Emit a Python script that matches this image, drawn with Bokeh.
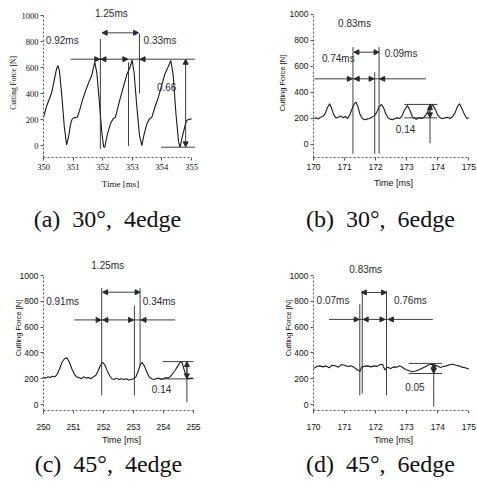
from bokeh.plotting import figure
from bokeh.layouts import column, row
from bokeh.models import ColumnDataSource, FixedTicker, Arrow, NormalHead
from bokeh.core.properties import value
from bokeh.embed import file_html
from bokeh.resources import INLINE

# ---------------- data ----------------
y_ticks = [0, 200, 400, 600, 800, 1000]

# (a) 30 deg, 4 edge
a_xticks = [350, 351, 352, 353, 354, 355]
a_time = [350.00, 350.10, 350.20, 350.28, 350.36, 350.44, 350.49, 350.54, 350.62, 350.70,
          350.78, 350.84, 350.92, 350.97, 351.05, 351.14, 351.22, 351.31, 351.42, 351.53,
          351.63, 351.73, 351.80, 351.88, 351.97, 352.03, 352.07, 352.15, 352.26, 352.35,
          352.43, 352.52, 352.60, 352.71, 352.82, 352.92, 352.99, 353.06, 353.14, 353.24,
          353.32, 353.40, 353.49, 353.58, 353.66, 353.77, 353.88, 354.00, 354.10, 354.20,
          354.30, 354.38, 354.47, 354.56, 354.61, 354.68, 354.78, 354.83, 354.90, 355.00]
a_force = [215, 300, 360, 410, 500, 590, 615, 570, 380, 150,
           5, 60, 170, 205, 215, 218, 270, 346, 420, 487,
           540, 641, 560, 350, 100, -10, -13, 80, 167, 205,
           218, 300, 372, 460, 551, 600, 659, 560, 330, 80,
           0, 90, 167, 205, 218, 300, 372, 470, 551, 600,
           654, 540, 250, 30, -13, 60, 154, 192, 200, 205]

# (b) 30 deg, 6 edge
b_xticks = [170, 171, 172, 173, 174, 175]
b_time = [170.00, 170.08, 170.15, 170.22, 170.30, 170.38, 170.45, 170.52, 170.58, 170.65,
          170.72, 170.80, 170.88, 170.95, 171.02, 171.10, 171.18, 171.25, 171.32, 171.37,
          171.43, 171.50, 171.57, 171.65, 171.72, 171.80, 171.88, 171.95, 172.03, 172.10,
          172.19, 172.26, 172.33, 172.40, 172.48, 172.55, 172.62, 172.70, 172.78, 172.85,
          172.92, 173.02, 173.10, 173.18, 173.25, 173.32, 173.40, 173.48, 173.56, 173.64,
          173.72, 173.83, 173.92, 174.00, 174.08, 174.16, 174.24, 174.32, 174.40, 174.48,
          174.56, 174.63, 174.70, 174.78, 174.86, 174.93, 175.00]
b_force = [200, 205, 195, 210, 215, 240, 285, 313, 280, 230,
           205, 210, 220, 205, 215, 200, 235, 280, 315, 326,
           290, 230, 200, 190, 195, 200, 210, 220, 245, 285,
           308, 280, 235, 205, 195, 190, 200, 205, 200, 220,
           260, 300, 265, 215, 200, 195, 205, 200, 210, 235,
           275, 305, 270, 225, 205, 200, 205, 210, 200, 215,
           245, 290, 313, 275, 230, 200, 205]

# (c) 45 deg, 4 edge
c_xticks = [250, 251, 252, 253, 254, 255]
c_time = [250.00, 250.08, 250.15, 250.22, 250.30, 250.38, 250.46, 250.54, 250.62, 250.70,
          250.78, 250.86, 250.94, 251.02, 251.10, 251.18, 251.26, 251.34, 251.42, 251.50,
          251.58, 251.66, 251.74, 251.82, 251.90, 251.97, 252.04, 252.12, 252.20, 252.28,
          252.36, 252.44, 252.52, 252.60, 252.68, 252.76, 252.84, 252.92, 253.00, 253.08,
          253.16, 253.22, 253.28, 253.36, 253.44, 253.52, 253.60, 253.68, 253.76, 253.84,
          253.92, 254.00, 254.08, 254.16, 254.24, 254.32, 254.40, 254.48, 254.56, 254.62,
          254.70, 254.78, 254.86, 254.94, 255.00]
c_force = [212, 205, 215, 210, 220, 215, 235, 280, 330, 355,
           362, 330, 280, 240, 215, 210, 200, 215, 205, 210,
           200, 215, 225, 260, 305, 328, 310, 265, 225, 200,
           195, 205, 195, 200, 195, 200, 190, 195, 200, 215,
           260, 305, 328, 300, 255, 215, 200, 195, 200, 205,
           195, 200, 210, 205, 220, 245, 270, 300, 330, 325,
           260, 205, 200, 205, 200]

# (d) 45 deg, 6 edge
d_xticks = [170, 171, 172, 173, 174, 175]
d_time = [170.00, 170.10, 170.20, 170.30, 170.40, 170.50, 170.60, 170.70, 170.80, 170.90,
          171.00, 171.10, 171.20, 171.30, 171.40, 171.50, 171.55, 171.65, 171.75, 171.85,
          171.95, 172.05, 172.15, 172.22, 172.30, 172.38, 172.48, 172.58, 172.68, 172.78,
          172.88, 172.98, 173.08, 173.18, 173.28, 173.38, 173.48, 173.58, 173.68, 173.78,
          173.88, 173.98, 174.08, 174.18, 174.28, 174.38, 174.48, 174.58, 174.68, 174.78,
          174.88, 175.00]
d_force = [280, 295, 300, 292, 300, 285, 305, 300, 290, 310,
           305, 295, 300, 290, 270, 258, 290, 298, 300, 292,
           300, 296, 310, 312, 268, 290, 280, 292, 290, 300,
           285, 270, 262, 255, 260, 268, 280, 292, 305, 312,
           308, 300, 288, 295, 300, 308, 312, 305, 300, 290,
           285, 275]

# annotation lines (x0, y0, x1, y1)
a_seg_x0 = [350.92, 353.97, 351.92, 352.87, 353.24]
a_seg_y0 = [664, -13, 820, 641, 859]
a_seg_x1 = [355.11, 355.11, 351.92, 352.87, 353.24]
a_seg_y1 = [664, -13, -26, -5, 400]

b_seg_x0 = [170.02, 171.27, 171.97, 172.11, 172.92, 172.92, 173.75]
b_seg_y0 = [505, 749, 556, 749, 308, 205, 308]
b_seg_x1 = [173.62, 171.27, 171.97, 172.11, 173.99, 173.99, 173.75]
b_seg_y1 = [505, -72, -72, -72, 308, 205, 10]

c_seg_x0 = [251.02, 251.94, 253.03, 253.22, 253.97, 253.85, 254.78]
c_seg_y0 = [656, 902, 767, 902, 333, 199, 333]
c_seg_x1 = [254.39, 251.94, 253.03, 253.22, 255.00, 254.90, 254.78]
c_seg_y1 = [656, 70, 70, 300, 333, 199, 18]

d_seg_x0 = [170.50, 171.49, 171.57, 172.35, 173.06, 173.06, 173.87]
d_seg_y0 = [660, 777, 882, 882, 319, 241, 319]
d_seg_x1 = [173.84, 171.49, 171.57, 172.35, 174.14, 174.14, 173.87]
d_seg_y1 = [660, 71, 84, 71, 319, 241, -16]

# single arrowheads (tail -> tip)
a_arr_x0 = [351.78, 352.06, 352.72, 353.38]
a_arr_x1 = [351.90, 351.94, 352.85, 353.26]
a_arr_y = [664, 664, 664, 664]
b_arr_x0 = [171.12, 171.44, 171.82, 172.26]
b_arr_x1 = [171.25, 171.31, 171.95, 172.13]
b_arr_y = [505, 505, 505, 505]
c_arr_x0 = [251.78, 252.12, 252.86, 253.39]
c_arr_x1 = [251.92, 251.98, 253.00, 253.25]
c_arr_y = [656, 656, 656, 656]
d_arr_x0 = [171.33, 171.74, 172.16, 172.55]
d_arr_x1 = [171.47, 171.60, 172.30, 172.41]
d_arr_y = [660, 660, 660, 660]

# double arrows (x0, y0, x1, y1)
a_dbl = ([351.98, 354.80], [867, 664], [353.21, 354.80], [867, -10])
b_dbl = ([171.30, 173.75], [710, 308], [172.11, 173.75], [710, 205])
c_dbl = ([251.97, 254.78], [871, 333], [253.22, 254.78], [871, 199])
d_dbl = ([171.54, 173.87], [869, 319], [172.35, 173.87], [869, 241])

# annotation texts
a_txt = ["1.25ms", "0.92ms", "0.33ms", "0.66"]
a_txt_x = [352.29, 350.08, 353.38, 353.83]
a_txt_y = [1013, 808, 808, 454]
a_txt_al = ["center", "left", "left", "left"]
b_txt = ["0.83ms", "0.74ms", "0.09ms", "0.14"]
b_txt_x = [171.32, 170.27, 172.29, 172.65]
b_txt_y = [928, 659, 697, 120]
b_txt_al = ["center", "left", "left", "left"]
c_txt = ["1.25ms", "0.91ms", "0.34ms", "0.14"]
c_txt_x = [252.14, 250.09, 253.31, 253.61]
c_txt_y = [1078, 798, 798, 121]
c_txt_al = ["center", "left", "left", "left"]
d_txt = ["0.83ms", "0.07ms", "0.76ms", "0.05"]
d_txt_x = [171.68, 170.10, 172.59, 172.95]
d_txt_y = [1047, 809, 809, 136]
d_txt_al = ["center", "left", "left", "left"]

NB = "\u00a0"
captions = ["(a)" + NB + " 30°," + NB + " 4edge", "(b)" + NB + " 30°," + NB + " 6edge",
            "(c)" + NB + " 45°," + NB + " 4edge", "(d)" + NB + " 45°," + NB + " 6edge"]

INK = "#1a1a1a"
ANN = "#2a2a2a"


def panel(t, f, xticks, xr, yr, seg, arr, dbl, txt,
          w, h, left, right, top, bottom, tick_font, label_standoff_y, xlab_standoff,
          xlab_font_stand):
    p = figure(width=w, height=h, x_range=xr, y_range=yr, output_backend="svg",
               toolbar_location=None, title=None,
               min_border_left=left, min_border_right=right, min_border_top=top,
               min_border_bottom=bottom)
    p.outline_line_color = None
    p.grid.visible = False
    p.background_fill_color = "white"
    p.border_fill_color = "white"

    p.line(t, f, line_color=INK, line_width=1.1)

    sx0, sy0, sx1, sy1 = seg
    p.segment(x0=sx0, y0=sy0, x1=sx1, y1=sy1, line_color=ANN, line_width=0.9)

    ax0, ax1, ay = arr
    src = ColumnDataSource(dict(x0=ax0, x1=ax1, y=ay))
    p.add_layout(Arrow(end=NormalHead(size=5, fill_color=ANN, line_color=ANN),
                       source=src, x_start="x0", y_start="y", x_end="x1", y_end="y",
                       line_color=ANN, line_width=0.9))
    dx0, dy0, dx1, dy1 = dbl
    dsrc = ColumnDataSource(dict(x0=dx0, y0=dy0, x1=dx1, y1=dy1))
    p.add_layout(Arrow(start=NormalHead(size=5, fill_color=ANN, line_color=ANN),
                       end=NormalHead(size=5, fill_color=ANN, line_color=ANN),
                       source=dsrc, x_start="x0", y_start="y0", x_end="x1", y_end="y1",
                       line_color=ANN, line_width=0.9))

    tt, tx, ty, ta = txt
    tsrc = ColumnDataSource(dict(x=tx, y=ty, text=tt, align=ta))
    p.text(x="x", y="y", text="text", text_align="align", text_baseline="middle",
           source=tsrc, text_font=value("Liberation Sans"), text_font_size="10px",
           text_color=ANN)

    p.xaxis.ticker = FixedTicker(ticks=xticks)
    p.yaxis.ticker = FixedTicker(ticks=y_ticks)
    p.xaxis.bounds = (xticks[0], xticks[-1])
    p.yaxis.bounds = (yr[0], 1000)
    p.axis.axis_line_color = "#555"
    p.axis.axis_line_width = 1
    p.axis.axis_line_dash = "2 2"
    p.axis.major_tick_out = 3
    p.axis.major_tick_in = 0
    p.axis.minor_tick_out = 0
    p.axis.minor_tick_in = 0
    p.axis.major_tick_line_color = "#555"
    p.axis.major_label_text_font = tick_font
    p.axis.major_label_text_font_size = "8.5px"
    p.axis.major_label_text_color = "#111"
    p.yaxis.major_label_standoff = 2
    p.xaxis.major_label_standoff = xlab_standoff
    p.xaxis.axis_label = "Time [ms]"
    p.yaxis.axis_label = "Cutting Force [N]"
    p.axis.axis_label_text_font = tick_font
    p.axis.axis_label_text_font_style = "normal"
    p.axis.axis_label_text_color = "#111"
    p.xaxis.axis_label_text_font_size = "9px"
    p.yaxis.axis_label_text_font_size = "7.5px"
    p.yaxis.axis_label_standoff = label_standoff_y
    p.xaxis.axis_label_standoff = xlab_font_stand
    return p


def caption(text, w, h, xc, yc):
    c = figure(width=w, height=h, x_range=(0, 1), y_range=(0, 1), output_backend="svg",
               toolbar_location=None, title=None, x_axis_type=None, y_axis_type=None,
               min_border=0)
    c.outline_line_color = None
    c.grid.visible = False
    c.text(x=[xc], y=[yc], text=[text], text_align="center", text_baseline="middle",
           text_font=value("Liberation Serif"), text_font_size="24px", text_color="#111")
    return c


pa = panel(a_time, a_force, a_xticks, (350, 355.2), (-92, 1054),
           (a_seg_x0, a_seg_y0, a_seg_x1, a_seg_y1), (a_arr_x0, a_arr_x1, a_arr_y), a_dbl,
           (a_txt, a_txt_x, a_txt_y, a_txt_al),
           242, 195, 43, 45, 8, 38, "Liberation Serif", 1, 3, 6)
pb = panel(b_time, b_force, b_xticks, (170, 175.15), (-100, 1046),
           (b_seg_x0, b_seg_y0, b_seg_x1, b_seg_y1), (b_arr_x0, b_arr_x1, b_arr_y), b_dbl,
           (b_txt, b_txt_x, b_txt_y, b_txt_al),
           235, 195, 71, 4, 8, 38, "Liberation Sans", 0, 3, 5)
pc = panel(c_time, c_force, c_xticks, (250, 255.2), (-46, 1233),
           (c_seg_x0, c_seg_y0, c_seg_x1, c_seg_y1), (c_arr_x0, c_arr_x1, c_arr_y), c_dbl,
           (c_txt, c_txt_x, c_txt_y, c_txt_al),
           242, 205, 43, 43, 0, 40, "Liberation Sans", -6, 10, 2)
pd_ = panel(d_time, d_force, d_xticks, (170, 175.15), (-46, 1233),
            (d_seg_x0, d_seg_y0, d_seg_x1, d_seg_y1), (d_arr_x0, d_arr_x1, d_arr_y), d_dbl,
            (d_txt, d_txt_x, d_txt_y, d_txt_al),
            235, 205, 71, 4, 0, 40, "Liberation Sans", -6, 10, 2)

ca = caption(captions[0], 242, 50, 0.442, 0.54)
cb = caption(captions[1], 235, 50, 0.587, 0.54)
cc = caption(captions[2], 242, 41, 0.446, 0.68)
cd = caption(captions[3], 235, 41, 0.587, 0.68)

layout = column(row(pa, pb), row(ca, cb), row(pc, pd_), row(cc, cd))

open("out.html", "w").write(file_html(layout, INLINE))
